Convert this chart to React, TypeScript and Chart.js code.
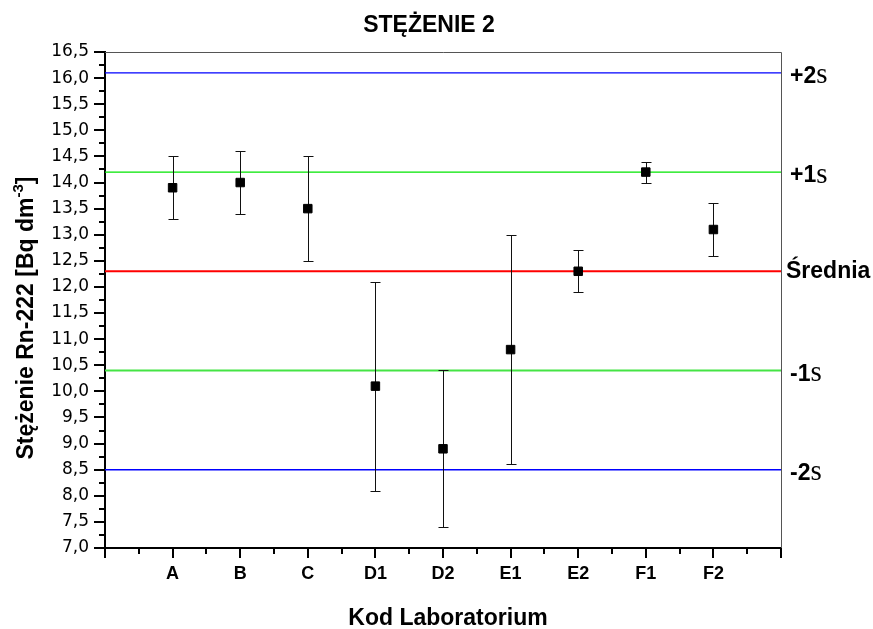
import React, { useEffect, useRef } from 'react';
import { Chart, registerables } from 'chart.js';

Chart.register(...registerables);

// ---- data ----
const categories = ['A', 'B', 'C', 'D1', 'D2', 'E1', 'E2', 'F1', 'F2'];
const values = [13.9, 14.0, 13.5, 10.1, 8.9, 10.8, 12.3, 14.2, 13.1];
const errLow = [13.3, 13.4, 12.5, 8.1, 7.4, 8.6, 11.9, 14.0, 12.6];
const errHigh = [14.5, 14.6, 14.5, 12.1, 10.4, 13.0, 12.7, 14.4, 13.6];
const refNames = ['+2', '+1', 'Średnia', '-1', '-2'];
const refSigma = ['s', 's', '', 's', 's'];
const refValues = [16.1, 14.2, 12.3, 10.4, 8.5];
const yMin = 7.0;
const yMax = 16.5;
const yStep = 0.5;
const titleText = 'STĘŻENIE 2';
const xTitleText = 'Kod Laboratorium';
const yTitleMain = 'Stężenie Rn-222 [Bq dm';
const yTitleSup = '-3';
const yTitleEnd = ']';

// ---- styles ----
const refColors = ['#0000ff', '#00e600', '#ff0000', '#44e444', '#0000ff'];
const refWidths = [1.4, 1.2, 2, 2, 1.4];
const BOLD = 'bold 23px "Liberation Sans", Arial, sans-serif';

const decorPlugin = {
  id: 'decor',
  beforeDatasetDraw(chart: any, args: any) {
    if (args.index !== 0) return;
    const { ctx, scales } = chart;
    const xs = scales.x, ys = scales.y;
    ctx.save();
    ctx.strokeStyle = '#111';
    ctx.lineWidth = 1;
    for (let i = 0; i < values.length; i++) {
      const x = Math.round(xs.getPixelForValue(i + 1)) + 0.5;
      const yh = Math.round(ys.getPixelForValue(errHigh[i])) + 0.5;
      const yl = Math.round(ys.getPixelForValue(errLow[i])) + 0.5;
      ctx.beginPath();
      ctx.moveTo(x, yh); ctx.lineTo(x, yl);
      ctx.moveTo(x - 5, yh); ctx.lineTo(x + 5, yh);
      ctx.moveTo(x - 5, yl); ctx.lineTo(x + 5, yl);
      ctx.stroke();
    }
    ctx.restore();
  },
  afterDraw(chart: any) {
    const { ctx, chartArea: ca, scales } = chart;
    const xs = scales.x, ys = scales.y;
    ctx.save();
    // frame top/right
    ctx.strokeStyle = '#555';
    ctx.lineWidth = 1;
    ctx.beginPath();
    ctx.moveTo(ca.left, Math.round(ca.top) + 0.5);
    ctx.lineTo(ca.right + 0.5, Math.round(ca.top) + 0.5);
    ctx.lineTo(ca.right + 0.5, ca.bottom);
    ctx.stroke();
    // minor ticks
    ctx.strokeStyle = '#000';
    ctx.lineWidth = 2;
    ctx.beginPath();
    for (let v = xs.min + 0.5; v < xs.max; v += 1) {
      const x = Math.round(xs.getPixelForValue(v));
      ctx.moveTo(x, ca.bottom); ctx.lineTo(x, ca.bottom + 6);
    }
    for (let v = yMin + yStep / 2; v < yMax; v += yStep) {
      const y = Math.round(ys.getPixelForValue(v));
      ctx.moveTo(ca.left, y); ctx.lineTo(ca.left - 6, y);
    }
    ctx.stroke();

    ctx.fillStyle = '#000';
    // title
    ctx.font = BOLD;
    ctx.textAlign = 'center';
    ctx.textBaseline = 'middle';
    ctx.fillText(titleText, (ca.left + ca.right) / 2 - 14, 26);
    // x title
    ctx.fillText(xTitleText, (ca.left + ca.right) / 2 + 5, 619);
    // y title
    ctx.save();
    ctx.translate(33, (ca.top + ca.bottom) / 2 + 18);
    ctx.rotate(-Math.PI / 2);
    ctx.textAlign = 'left';
    ctx.textBaseline = 'alphabetic';
    ctx.font = BOLD;
    const w1 = ctx.measureText(yTitleMain).width;
    ctx.font = 'bold 15px "Liberation Sans", Arial, sans-serif';
    const w2 = ctx.measureText(yTitleSup).width;
    ctx.font = BOLD;
    const w3 = ctx.measureText(yTitleEnd).width;
    let sx = -(w1 + w2 + w3) / 2;
    ctx.fillText(yTitleMain, sx, 0);
    sx += w1;
    ctx.font = 'bold 15px "Liberation Sans", Arial, sans-serif';
    ctx.fillText(yTitleSup, sx, -10);
    sx += w2;
    ctx.font = BOLD;
    ctx.fillText(yTitleEnd, sx, 0);
    ctx.restore();

    // right side labels
    ctx.textAlign = 'left';
    ctx.textBaseline = 'middle';
    for (let i = 0; i < refValues.length; i++) {
      const y = ys.getPixelForValue(refValues[i]);
      const isSigma = refSigma[i] !== '';
      let x = ca.right + (isSigma ? 9 : 5);
      const yy = y + (isSigma ? 4 : 0);
      ctx.font = 'bold 23px "Liberation Sans", Arial, sans-serif';
      ctx.fillText(refNames[i], x, yy);
      if (isSigma) {
        x += ctx.measureText(refNames[i]).width;
        ctx.font = '29px "Liberation Serif", "Times New Roman", serif';
        ctx.fillText(refSigma[i], x, yy - 1);
      }
    }
    ctx.restore();
  },
};

export default function App() {
  const ref = useRef<HTMLCanvasElement | null>(null);
  useEffect(() => {
    if (!ref.current) return;
    const refDatasets = refValues.map((v, i) => ({
      type: 'line' as const,
      label: refNames[i],
      data: [{ x: 0, y: v }, { x: 10, y: v }],
      borderColor: refColors[i],
      borderWidth: refWidths[i],
      pointRadius: 0,
      fill: false,
    }));
    const chart = new Chart(ref.current, {
      type: 'scatter',
      data: {
        datasets: [
          {
            label: 'Stężenie',
            data: values.map((v, i) => ({ x: i + 1, y: v })),
            backgroundColor: '#000',
            borderColor: '#000',
            borderWidth: 1,
            pointStyle: 'rect',
            pointRadius: 6,
          } as any,
          ...refDatasets,
        ],
      },
      options: {
        animation: false,
        responsive: false,
        devicePixelRatio: 1,
        layout: { padding: { top: 52, right: 92, left: 0, bottom: 0 } },
        plugins: {
          legend: { display: false },
          tooltip: { enabled: false },
          title: { display: false },
        },
        scales: {
          x: {
            type: 'linear',
            min: 0,
            max: 10,
            afterFit: (s: any) => { s.height = 81; },
            border: { display: true, color: '#000', width: 2 },
            grid: { drawOnChartArea: false, drawTicks: true, tickLength: 10, color: '#000', lineWidth: 2 },
            ticks: {
              stepSize: 1,
              autoSkip: false,
              maxRotation: 0,
              padding: 5,
              color: '#000',
              font: { family: '"Liberation Sans", Arial, sans-serif', size: 18, weight: 'bold' },
              callback: (v: any) => categories[Number(v) - 1] ?? '',
            },
          },
          y: {
            type: 'linear',
            min: yMin,
            max: yMax,
            afterFit: (s: any) => { s.width = 105; },
            border: { display: true, color: '#000', width: 2 },
            grid: { drawOnChartArea: false, drawTicks: true, tickLength: 11, color: '#000', lineWidth: 2 },
            ticks: {
              stepSize: yStep,
              autoSkip: false,
              padding: 5,
              color: '#000',
              font: { family: '"DejaVu Sans", sans-serif', size: 17 },
              callback: (v: any) => Number(v).toFixed(1).replace('.', ','),
            },
          },
        },
      } as any,
      plugins: [decorPlugin],
    });
    return () => chart.destroy();
  }, []);
  return (
    <div style={{ position: 'fixed', left: 0, top: 0, width: 873, height: 629, background: '#fff' }}>
      <canvas ref={ref} width={873} height={629} />
    </div>
  );
}
